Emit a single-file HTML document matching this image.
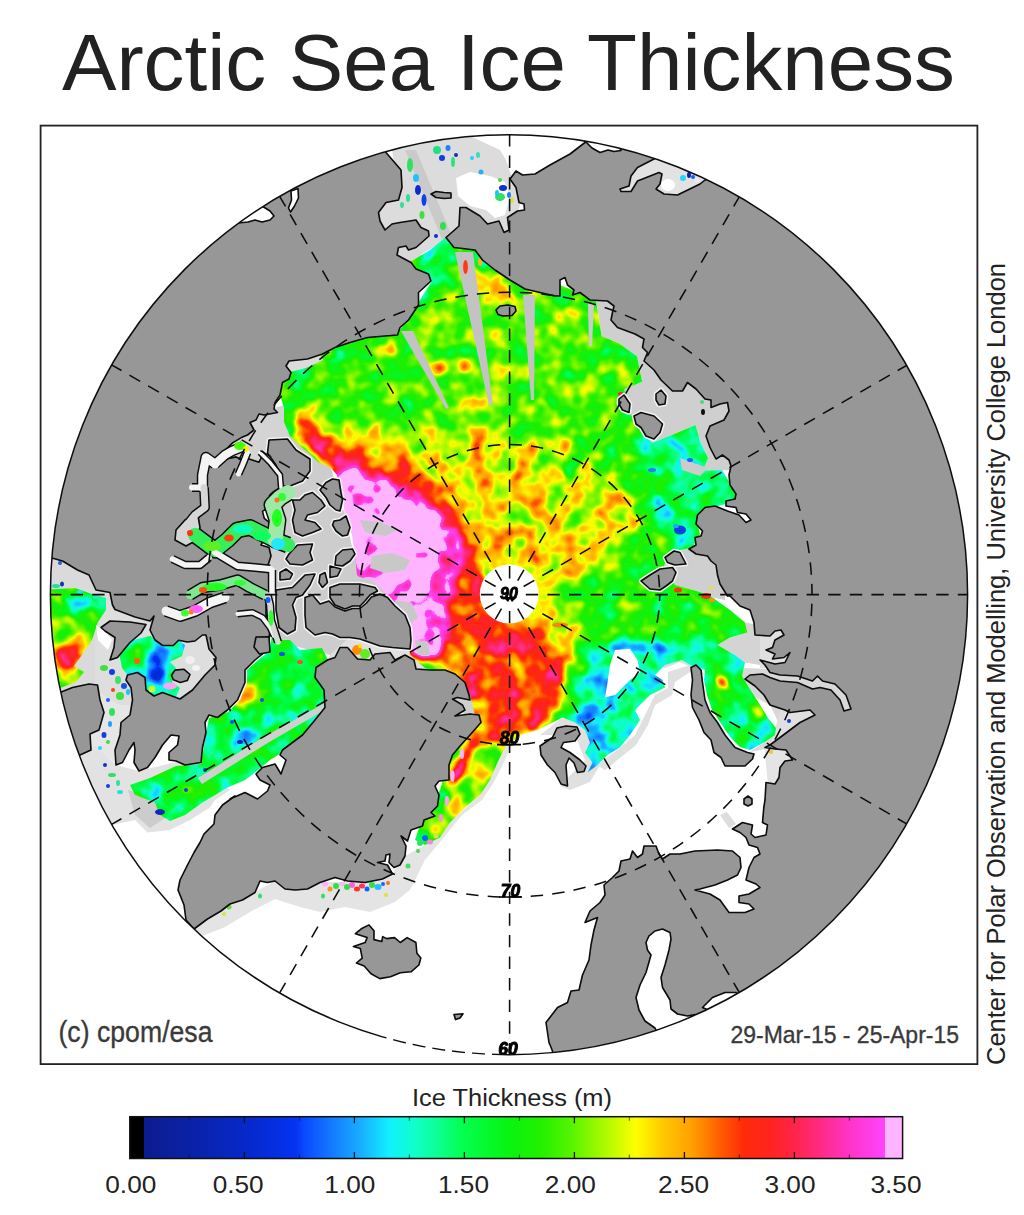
<!DOCTYPE html>
<html><head><meta charset="utf-8"><title>Arctic Sea Ice Thickness</title>
<style>
html,body{margin:0;padding:0;background:#fff;}
body{width:1024px;height:1215px;overflow:hidden;position:relative;font-family:"Liberation Sans",sans-serif;}
svg{position:absolute;left:0;top:0;}
text{font-family:"Liberation Sans",sans-serif;}
</style></head><body>
<svg width="1024" height="1215" viewBox="0 0 1024 1215">
<defs>
<filter id="soft" filterUnits="userSpaceOnUse" x="30" y="115" width="960" height="960"><feGaussianBlur stdDeviation="0.55"/></filter>
<clipPath id="cc"><ellipse cx="509.0" cy="594.65" rx="458.6" ry="460.0"/></clipPath>
<linearGradient id="cb" x1="0" x2="1" y1="0" y2="0"><stop offset="0.0000" stop-color="#000000"/><stop offset="0.0186" stop-color="#000000"/><stop offset="0.0187" stop-color="#0b1c8e"/><stop offset="0.0800" stop-color="#0a22a8"/><stop offset="0.1550" stop-color="#0629cc"/><stop offset="0.2150" stop-color="#0433f2"/><stop offset="0.2250" stop-color="#0a48ff"/><stop offset="0.2600" stop-color="#1478ff"/><stop offset="0.3000" stop-color="#18b0ff"/><stop offset="0.3360" stop-color="#12f0ff"/><stop offset="0.3700" stop-color="#10ffc8"/><stop offset="0.4000" stop-color="#0cff90"/><stop offset="0.4300" stop-color="#04ff50"/><stop offset="0.4900" stop-color="#08f410"/><stop offset="0.5300" stop-color="#20f000"/><stop offset="0.5720" stop-color="#58f400"/><stop offset="0.6200" stop-color="#b8fa00"/><stop offset="0.6550" stop-color="#ffff00"/><stop offset="0.6900" stop-color="#ffc800"/><stop offset="0.7300" stop-color="#ff9c00"/><stop offset="0.7620" stop-color="#ff6000"/><stop offset="0.7950" stop-color="#ff2a08"/><stop offset="0.8300" stop-color="#ff2420"/><stop offset="0.8600" stop-color="#ff2448"/><stop offset="0.9000" stop-color="#ff2c90"/><stop offset="0.9320" stop-color="#ff34c8"/><stop offset="0.9770" stop-color="#ff44ff"/><stop offset="0.9771" stop-color="#ffb4ff"/><stop offset="1.0000" stop-color="#ffb4ff"/></linearGradient>
</defs>
<rect x="0" y="0" width="1024" height="1215" fill="#ffffff"/>
<text x="508.4" y="89.6" font-size="80" fill="#222222" text-anchor="middle" textLength="893" lengthAdjust="spacingAndGlyphs">Arctic Sea Ice Thickness</text>
<g filter="url(#soft)">
<g clip-path="url(#cc)">
<ellipse cx="509.0" cy="594.65" rx="458.6" ry="460.0" fill="#ffffff"/>
<!--ICE-->
<defs>
<filter id="cmap" filterUnits="userSpaceOnUse" x="30" y="120" width="960" height="950" color-interpolation-filters="sRGB">
<feGaussianBlur in="SourceGraphic" stdDeviation="4.5" result="t"/>
<feTurbulence type="fractalNoise" baseFrequency="0.055" numOctaves="2" seed="7" result="n"/>
<feColorMatrix in="n" type="matrix" values="1 0 0 0 0  1 0 0 0 0  1 0 0 0 0  0 0 0 0 1" result="ng"/>
<feComposite in="t" in2="ng" operator="arithmetic" k1="0" k2="1" k3="0.34" k4="-0.17" result="tn"/>
<feComponentTransfer in="tn">
<feFuncR type="table" tableValues="0.000 0.000 0.043 0.042 0.041 0.040 0.038 0.035 0.032 0.029 0.026 0.023 0.021 0.020 0.018 0.016 0.043 0.059 0.075 0.083 0.089 0.094 0.085 0.075 0.069 0.066 0.062 0.055 0.047 0.032 0.017 0.019 0.023 0.027 0.030 0.055 0.089 0.122 0.193 0.267 0.342 0.453 0.565 0.677 0.790 0.903 1.000 1.000 1.000 1.000 1.000 1.000 1.000 1.000 1.000 1.000 1.000 1.000 1.000 1.000 1.000 1.000 1.000 1.000 1.000 1.000 1.000 1.000 1.000 1.000 1.000 1.000 1.000 1.000 1.000 1.000 1.000 1.000 1.000"/>
<feFuncG type="table" tableValues="0.000 0.000 0.114 0.119 0.125 0.130 0.135 0.141 0.146 0.151 0.156 0.162 0.172 0.181 0.190 0.200 0.302 0.378 0.455 0.533 0.612 0.690 0.790 0.889 0.953 0.978 1.000 1.000 1.000 1.000 1.000 0.991 0.980 0.970 0.960 0.953 0.947 0.942 0.946 0.951 0.957 0.964 0.971 0.978 0.985 0.993 0.987 0.899 0.811 0.741 0.680 0.618 0.517 0.412 0.316 0.224 0.161 0.152 0.142 0.141 0.141 0.150 0.161 0.173 0.187 0.201 0.219 0.239 0.259 0.706 0.706 0.706 0.706 0.706 0.706 0.706 0.706 0.706 0.706"/>
<feFuncB type="table" tableValues="0.000 0.000 0.573 0.597 0.621 0.645 0.670 0.696 0.723 0.750 0.777 0.805 0.841 0.876 0.912 0.947 1.000 1.000 1.000 1.000 1.000 1.000 1.000 1.000 0.957 0.866 0.774 0.669 0.565 0.445 0.326 0.260 0.200 0.140 0.081 0.047 0.025 0.002 0.000 0.000 0.000 0.000 0.000 0.000 0.000 0.000 0.000 0.000 0.000 0.000 0.000 0.000 0.000 0.000 0.009 0.023 0.045 0.083 0.122 0.193 0.267 0.363 0.464 0.565 0.663 0.761 0.836 0.905 0.973 1.000 1.000 1.000 1.000 1.000 1.000 1.000 1.000 1.000 1.000"/>
</feComponentTransfer>
</filter>
<clipPath id="dclip">
<polygon points="446.0,237.0 470.0,245.0 520.0,270.0 560.0,285.0 596.0,300.0 601.6,336.0 619.3,343.6 637.0,356.3 642.2,381.7 624.4,389.3 629.5,412.2 642.2,432.5 652.4,442.7 677.7,432.5 695.5,424.9 700.6,442.7 708.2,457.9 703.0,470.6 722.0,470.0 740.0,500.0 715.0,507.0 700.0,512.0 697.0,522.0 700.0,534.0 692.0,548.0 680.0,550.0 668.0,556.0 664.0,566.0 675.0,585.0 700.0,592.0 712.5,597.5 730.0,610.0 745.0,622.5 747.5,632.5 730.0,637.5 717.5,645.0 735.0,655.0 745.0,662.5 742.0,676.0 748.0,686.0 755.0,697.0 762.0,708.0 768.0,718.0 776.0,728.0 775.0,735.0 765.0,742.0 750.0,750.0 740.0,747.0 730.0,737.0 720.0,722.0 712.0,710.0 707.0,695.0 704.0,680.0 705.0,670.0 700.0,668.0 690.0,665.0 682.0,660.0 665.0,665.0 655.0,675.0 662.5,680.0 665.0,687.5 650.0,695.0 635.0,710.0 640.0,720.0 630.0,735.0 620.0,747.5 607.5,755.0 597.5,765.0 587.5,772.5 592.5,762.5 585.0,752.5 590.0,742.5 585.0,730.0 575.0,722.5 562.5,717.5 552.5,722.5 537.5,730.0 520.0,735.0 505.0,747.5 497.5,762.5 490.0,780.0 480.0,795.0 465.0,807.5 450.0,822.5 440.0,837.5 425.0,845.0 415.0,840.0 420.0,825.0 440.0,790.0 455.0,740.0 475.0,715.0 470.0,695.0 440.0,675.0 425.0,668.0 410.0,655.0 408.0,640.0 400.0,612.0 385.0,597.0 368.0,586.0 357.0,575.0 355.0,555.0 352.0,535.0 345.0,515.0 342.0,495.0 337.0,475.0 330.0,467.0 318.0,462.0 312.0,456.0 300.0,446.0 290.0,436.0 284.0,422.0 284.0,408.0 280.0,395.0 285.0,375.0 300.0,355.0 340.0,340.0 400.0,330.0 420.0,300.0 432.0,281.0 429.0,275.0 415.0,270.0 410.0,262.0 430.0,250.0"/>
<polygon points="118.8,652.5 132.9,640.2 150.4,635.8 162.7,645.5 173.3,645.5 178.6,640.2 185.0,645.0 182.0,656.0 170.0,662.0 176.0,668.0 172.0,682.0 180.0,688.0 176.0,697.0 162.5,692.5 154.0,696.0 146.0,690.0 145.0,677.5 137.5,672.5 127.5,675.0 122.0,668.0"/>
<polygon points="290.0,640.0 300.0,650.0 322.0,648.0 328.0,660.0 318.0,668.0 316.0,680.0 324.0,690.0 325.0,707.0 315.0,720.0 302.0,735.0 286.0,750.0 270.0,760.0 255.0,772.5 245.0,780.0 227.5,787.5 215.0,795.0 202.5,802.5 185.0,815.0 170.0,821.0 160.0,815.0 155.0,802.5 135.0,795.0 130.0,785.0 150.0,778.0 176.0,766.0 201.0,764.0 205.0,740.0 209.0,718.0 228.0,712.0 240.0,700.0 247.0,683.0 247.0,670.0 257.0,661.0 269.0,651.0 272.0,636.0 280.0,640.0"/>
<polygon points="40.0,590.0 75.0,588.0 92.0,594.0 106.0,598.0 106.0,610.0 98.0,622.0 92.0,640.0 82.0,655.0 74.0,666.0 84.0,672.0 76.0,682.0 60.0,688.0 40.0,690.0"/>
</clipPath></defs>
<g>
<polygon points="80.0,755.0 95.0,745.0 116.0,765.0 139.0,771.0 176.0,762.0 201.0,764.0 230.0,790.0 215.0,800.0 210.0,807.5 190.0,820.0 170.0,830.0 147.5,832.5 135.0,820.0 112.5,825.0 95.0,800.0" fill="#e2e2e2"/>
<polygon points="128.0,790.0 160.0,800.0 165.0,818.0 150.0,828.0 135.0,815.0" fill="#cccccc"/>
<polygon points="194.0,929.0 200.0,937.0 225.0,927.0 250.0,912.0 275.0,899.0 300.0,907.0 320.0,912.0 345.0,907.0 370.0,912.0 395.0,902.0 410.0,890.0 425.0,860.0 440.0,842.0 462.0,815.0 482.0,800.0 494.0,782.0 505.0,760.0 512.0,745.0 500.0,745.0 480.0,795.0 450.0,822.0 425.0,845.0 405.0,856.0 392.0,874.0 365.0,882.0 320.0,882.0 275.0,881.0 255.0,892.0 230.0,904.0" fill="#e4e4e4"/>
<polygon points="540.0,735.0 562.0,718.0 580.0,722.0 592.0,742.0 600.0,765.0 590.0,782.0 570.0,790.0 560.0,786.0 585.0,760.0 575.0,735.0" fill="#e0e0e0"/>
<polygon points="597.0,765.0 620.0,748.0 635.0,735.0 645.0,715.0 655.0,695.0 668.0,688.0 668.0,672.0 690.0,665.0 700.0,668.0 705.0,675.0 690.0,672.0 675.0,682.0 672.0,695.0 655.0,705.0 648.0,725.0 636.0,745.0 620.0,758.0 605.0,770.0" fill="#e0e0e0"/>
<polygon points="655.0,665.0 665.0,655.0 690.0,655.0 693.0,668.0 680.0,662.0 665.0,668.0" fill="#dcdcdc"/>
<polygon points="764.0,745.0 790.0,745.0 795.0,762.0 785.0,785.0 768.0,785.0" fill="#e4e4e4"/>
<polygon points="720.0,815.0 727.0,812.0 736.0,824.0 729.0,828.0" fill="#dddddd"/>
<polygon points="392.0,150.0 430.0,140.0 470.0,136.0 500.0,150.0 512.0,170.0 520.0,205.0 512.0,232.0 470.0,245.0 446.0,240.0 420.0,255.0 395.0,255.0 378.0,225.0 380.0,200.0 398.0,185.0" fill="#dcdcdc"/>
<polygon points="596.0,298.0 620.0,300.0 660.0,330.0 700.0,380.0 740.0,400.0 740.0,470.0 703.0,470.6 708.2,457.9 700.6,442.7 695.5,424.9 677.7,432.5 652.4,442.7 642.2,432.5 629.5,412.2 624.4,389.3 642.2,381.7 637.0,356.3 619.3,343.6 601.6,336.0" fill="#cfcfcf"/>
<polygon points="664.0,566.0 668.0,556.0 680.0,550.0 692.0,548.0 700.0,534.0 725.0,560.0 725.0,600.0 712.5,597.5 700.0,592.0 675.0,585.0" fill="#cfcfcf"/>
<polygon points="717.5,645.0 730.0,637.5 747.5,632.5 745.0,622.5 760.0,625.0 775.0,650.0 760.0,665.0 745.0,662.5 735.0,655.0" fill="#d4d4d4"/>
<polygon points="745.0,679.0 750.0,672.0 790.0,690.0 800.0,712.0 815.0,712.0 790.0,735.0 770.0,748.0 750.0,752.0 765.0,742.0 775.0,735.0 780.0,727.0 775.0,715.0 770.0,705.0 764.0,695.0 755.0,686.0" fill="#d8d8d8"/>
<polygon points="284.0,405.0 300.0,440.0 330.0,465.0 345.0,515.0 355.0,560.0 368.0,586.0 395.0,606.0 410.0,640.0 410.0,655.0 350.0,660.0 290.0,645.0 272.0,640.0 265.0,560.0 270.0,530.0 290.0,490.0 290.0,440.0 262.0,440.0 262.0,420.0" fill="#cdcdcd"/>
<polygon points="284.0,405.0 262.0,412.0 250.0,424.0 246.0,436.0 232.0,444.0 222.0,456.0 228.0,459.0 236.0,457.0 245.0,461.0 249.0,459.0 259.0,462.0 263.0,455.0 268.0,452.0 269.0,440.0 288.0,439.0" fill="#d4d4d4"/>
<polygon points="320.0,668.0 330.0,655.0 350.0,637.0 380.0,644.0 415.0,652.0 432.0,668.0 416.0,672.0 395.0,662.0 370.0,662.0 345.0,652.0" fill="#e0e0e0"/>
<polygon points="425.0,668.0 440.0,675.0 470.0,695.0 478.0,712.0 465.0,716.0 455.0,700.0 440.0,690.0" fill="#d0d0d0"/>
<polygon points="40.0,555.0 62.5,561.0 77.5,570.0 89.0,575.0 96.0,590.0 110.0,592.5 112.5,605.0 110.0,612.0 101.0,627.5 105.0,631.0 115.0,637.5 114.0,647.5 110.0,660.0 117.5,657.5 126.0,680.0 100.0,686.0 97.5,685.0 89.0,684.0 72.5,687.5 60.0,692.5 40.0,692.0" fill="#dadada"/>
<polygon points="97.5,685.0 126.0,680.0 131.0,687.5 132.5,700.0 130.0,715.0 121.0,722.5 120.0,735.0 115.0,750.0 116.0,765.0 95.0,745.0 80.0,755.0 91.0,750.0 90.0,734.0 99.0,730.0 104.0,712.5 100.0,700.0" fill="#e6e6e6"/>
<polygon points="742.0,668.0 800.0,670.0 856.0,690.0 856.0,715.0 790.0,716.0 742.0,690.0" fill="#d8d8d8"/>
<polygon points="760.0,628.0 795.0,628.0 795.0,668.0 760.0,668.0" fill="#e0e0e0"/>
<polygon points="782.0,706.0 820.0,706.0 820.0,730.0 790.0,745.0 770.0,745.0" fill="#e0e0e0"/>
<polygon points="396.0,246.0 410.0,245.0 422.0,252.0 418.0,263.0 405.0,264.0 396.0,257.0" fill="#d8d8d8"/>
<polygon points="95.0,600.0 220.0,600.0 222.0,705.0 120.0,705.0 95.0,690.0" fill="#dedede"/>
</g>
<g clip-path="url(#dclip)"><g filter="url(#cmap)">
<rect x="0" y="100" width="1024" height="1000" fill="#747474"/>
<polygon points="690.0,640.0 760.0,640.0 790.0,720.0 760.0,760.0 720.0,740.0 700.0,690.0" fill="#656565"/>
<polygon points="716.0,678.0 728.0,681.0 729.0,689.0 717.0,687.0" fill="#dedede"/>
<polygon points="754.0,706.0 762.0,708.0 763.0,718.0 755.0,716.0" fill="#bebebe"/>
<polygon points="750.0,726.0 768.0,726.0 769.0,741.0 753.0,743.0" fill="#3b3b3b"/>
<polygon points="572.0,650.0 610.0,640.0 700.0,640.0 700.0,700.0 640.0,760.0 590.0,780.0 572.0,740.0" fill="#555555"/>
<polygon points="640.0,430.0 720.0,420.0 740.0,520.0 690.0,560.0 650.0,520.0" fill="#5f5f5f"/>
<polygon points="425.0,235.0 470.0,240.0 480.0,300.0 440.0,320.0 415.0,290.0" fill="#626262"/>
<polygon points="560.0,440.0 590.0,440.0 592.0,480.0 565.0,480.0" fill="#626262"/>
<polygon points="405.0,335.0 450.0,262.0 520.0,285.0 600.0,310.0 630.0,360.0 620.0,420.0 560.0,445.0 470.0,440.0 420.0,400.0" fill="#808080"/>
<polygon points="470.0,262.0 505.0,280.0 520.0,300.0 500.0,310.0 478.0,296.0 466.0,276.0" fill="#9a9a9a"/>
<polygon points="462.0,262.0 466.0,262.0 467.0,276.0 463.0,276.0" fill="#c4c4c4"/>
<polygon points="432.0,364.0 446.0,363.0 447.0,373.0 433.0,374.0" fill="#c4c4c4"/>
<polygon points="457.0,361.0 470.0,361.0 471.0,370.0 458.0,370.0" fill="#c4c4c4"/>
<polygon points="468.0,398.0 492.0,400.0 490.0,410.0 470.0,408.0" fill="#bebebe"/>
<polygon points="318.0,374.0 332.0,372.0 334.0,382.0 320.0,384.0" fill="#cbcbcb"/>
<polygon points="338.0,370.0 352.0,368.0 354.0,377.0 340.0,379.0" fill="#c4c4c4"/>
<polygon points="360.0,350.0 395.0,345.0 398.0,356.0 364.0,362.0" fill="#aaaaaa"/>
<polygon points="296.0,408.0 340.0,398.0 400.0,412.0 450.0,424.0 505.0,434.0 535.0,445.0 556.0,470.0 585.0,490.0 615.0,498.0 640.0,519.0 615.0,546.0 582.0,562.0 558.0,578.0 552.0,600.0 572.0,626.0 578.0,660.0 565.0,684.0 552.0,722.0 520.0,742.0 495.0,755.0 480.0,760.0 455.0,740.0 455.0,700.0 440.0,660.0 420.0,600.0 400.0,520.0 350.0,480.0 296.0,440.0" fill="#949494"/>
<polygon points="395.2,511.7 425.0,523.9 402.1,491.1 435.7,512.9 396.0,449.6 406.4,442.1 417.3,435.3 432.1,436.4 467.3,490.8 459.2,440.5 477.9,468.5 477.3,413.4 497.6,483.2 504.8,464.7 513.2,482.7 524.5,450.4 537.4,435.1 540.7,468.5 559.4,440.5 575.2,431.4 558.4,493.9 597.3,442.2 582.0,486.8 578.3,506.3 632.4,457.9 602.8,504.3 633.4,490.5 626.6,509.4 619.5,525.7 652.3,518.5 628.1,541.7 581.7,568.3 600.6,568.4 647.2,565.3 542.3,586.4 539.9,579.7 536.1,573.7 531.2,568.6 525.3,564.6 518.7,561.9 511.7,560.7 504.6,560.9 497.7,562.7 491.3,565.8 485.7,570.1" fill="#989898"/>
<polygon points="300.0,370.0 360.0,350.0 430.0,370.0 450.0,420.0 380.0,430.0 320.0,420.0" fill="#7b7b7b"/>
<polygon points="296.0,408.0 325.0,436.0 361.0,449.0 394.0,463.0 423.0,475.0 452.0,487.0 472.0,518.0 482.0,560.0 486.0,600.0 530.0,624.0 556.0,642.5 565.0,675.0 560.0,708.0 540.0,726.0 513.0,739.0 495.0,747.0 478.0,732.0 463.0,690.0 453.0,660.0 438.0,650.0 425.0,610.0 430.0,590.0 445.0,565.0 448.0,536.0 435.0,515.0 407.0,505.0 382.0,495.0 357.0,480.0 337.0,470.0 318.0,455.0 296.0,436.0" fill="#bababa"/>
<polygon points="320.0,454.0 361.0,468.0 394.0,480.0 423.0,492.0 450.0,501.0 464.0,530.0 462.0,560.0 452.0,593.0 445.0,618.0 453.0,642.0 460.0,668.0 445.0,668.0 435.0,640.0 425.0,610.0 430.0,590.0 441.0,565.0 448.0,538.0 435.0,513.0 407.0,505.0 382.0,495.0 357.0,480.0 337.0,470.0" fill="#d9d9d9"/>
<polygon points="335.0,466.0 357.0,476.0 382.0,491.0 407.0,501.0 435.0,509.0 449.0,536.0 440.0,565.0 428.0,589.0 424.0,610.0 436.0,634.0 441.0,661.0 415.0,661.0 405.0,645.0 400.0,618.0 385.0,597.0 355.0,585.0 350.0,560.0 345.0,540.0 338.0,515.0 330.0,491.0" fill="#ededed"/>
<polygon points="444.0,640.0 476.0,636.0 486.0,700.0 492.0,738.0 470.0,738.0 455.0,700.0" fill="#a0a0a0"/>
<polygon points="468.0,680.0 478.0,680.0 479.0,698.0 470.0,698.0" fill="#ebebeb"/>
<polygon points="585.0,660.0 612.0,655.0 615.0,700.0 600.0,760.0 585.0,770.0 580.0,720.0" fill="#4b4b4b"/>
<polygon points="475.0,740.0 503.0,745.0 495.0,775.0 470.0,810.0 440.0,845.0 420.0,850.0 425.0,830.0 450.0,800.0 462.0,770.0" fill="#868686"/>
<polygon points="474.0,738.0 478.0,742.0 465.0,768.0 455.0,790.0 451.0,792.0 452.0,775.0 459.0,752.0" fill="#dedede"/>
<polygon points="452.0,792.0 459.0,792.0 453.0,810.0 442.0,826.0 438.0,822.0" fill="#aaaaaa"/>
<polygon points="418.0,830.0 430.0,830.0 428.0,848.0 415.0,848.0" fill="#555555"/>
<polygon points="120.0,780.0 200.0,760.0 210.0,700.0 260.0,640.0 335.0,640.0 335.0,720.0 290.0,760.0 180.0,830.0" fill="#676767"/>
<polygon points="236.0,684.0 254.0,676.0 258.0,694.0 244.0,712.0 236.0,704.0" fill="#adadad"/>
<polygon points="225.0,740.0 250.0,725.0 255.0,738.0 232.0,752.0" fill="#414141"/>
<polygon points="40.0,590.0 112.0,590.0 112.0,690.0 40.0,690.0" fill="#838383"/>
<polygon points="52.0,644.0 80.0,640.0 86.0,662.0 70.0,672.0 56.0,672.0" fill="#c1c1c1"/>
<polygon points="60.0,592.0 112.0,594.0 110.0,612.0 70.0,612.0" fill="#555555"/>
<polygon points="115.0,630.0 215.0,630.0 215.0,705.0 115.0,705.0" fill="#525252"/>
<polygon points="120.0,648.0 140.0,640.0 150.0,652.0 135.0,664.0 122.0,662.0" fill="#6f6f6f"/>
<polygon points="150.0,648.0 166.0,648.0 168.0,662.0 152.0,664.0" fill="#313131"/>
<polygon points="152.0,664.0 166.0,668.0 168.0,680.0 154.0,680.0" fill="#272727"/>
<polygon points="168.0,640.0 182.0,642.0 180.0,654.0 168.0,654.0" fill="#7c7c7c"/>
<polygon points="483.5,564.0 386.7,449.5 398.2,440.5 485.9,562.2" fill="#b1b1b1" fill-opacity="0.7"/>
<polygon points="490.2,559.5 427.9,445.3 436.4,441.0 492.1,558.5" fill="#aaaaaa" fill-opacity="0.7"/>
<polygon points="499.1,555.9 467.2,435.1 477.3,432.7 501.5,555.4" fill="#b1b1b1" fill-opacity="0.7"/>
<polygon points="505.2,549.8 495.7,445.2 502.0,444.8 507.1,549.7" fill="#aaaaaa" fill-opacity="0.7"/>
<polygon points="513.1,554.8 523.4,445.3 531.7,446.3 515.3,555.0" fill="#aaaaaa" fill-opacity="0.7"/>
<polygon points="521.9,556.6 556.6,452.3 564.5,455.1 524.0,557.4" fill="#a7a7a7" fill-opacity="0.7"/>
<polygon points="529.9,560.3 596.9,448.9 606.8,455.3 532.2,561.8" fill="#aaaaaa" fill-opacity="0.7"/>
<polygon points="537.6,566.3 622.4,481.5 630.1,489.6 539.5,568.4" fill="#a7a7a7" fill-opacity="0.7"/>
<polygon points="543.1,573.3 636.2,514.7 642.0,524.6 544.7,575.9" fill="#aaaaaa" fill-opacity="0.7"/>
<polygon points="547.1,581.6 622.8,555.5 625.2,563.5 547.9,584.2" fill="#a3a3a3" fill-opacity="0.7"/>
<polygon points="475.9,544.7 398.0,428.4 408.7,421.7 479.1,542.7" fill="#7c7c7c" fill-opacity="0.7"/>
<polygon points="483.5,529.5 439.4,417.9 449.3,414.3 487.2,528.2" fill="#7c7c7c" fill-opacity="0.7"/>
<polygon points="507.3,514.6 505.1,424.7 513.5,424.7 511.3,514.6" fill="#7c7c7c" fill-opacity="0.7"/>
<polygon points="523.3,526.0 543.2,428.0 551.9,430.0 526.8,526.8" fill="#7c7c7c" fill-opacity="0.7"/>
<polygon points="539.3,531.4 586.5,432.0 595.5,436.6 542.8,533.1" fill="#7c7c7c" fill-opacity="0.7"/>
<polygon points="546.4,547.4 633.0,437.4 642.6,445.5 549.3,549.9" fill="#797979" fill-opacity="0.7"/>
<polygon points="556.7,557.8 667.3,472.0 674.7,482.2 558.9,560.9" fill="#797979" fill-opacity="0.7"/>
<polygon points="524.1,626.3 560.0,703.4 540.4,710.5 518.4,628.4" fill="#bebebe" fill-opacity="0.7"/>
<polygon points="509.3,629.6 509.3,724.6 486.7,722.6 503.2,629.1" fill="#c1c1c1" fill-opacity="0.7"/>
<polygon points="496.8,627.3 466.3,706.6 451.1,699.6 492.3,625.2" fill="#c4c4c4" fill-opacity="0.7"/>
<polygon points="516.6,633.9 533.0,722.4 521.8,724.0 513.1,634.4" fill="#969696" fill-opacity="0.7"/>
<polygon points="499.6,633.4 480.3,711.0 472.2,708.7 496.9,632.6" fill="#9d9d9d" fill-opacity="0.7"/>
<polygon points="549.0,599.5 598.6,605.6 597.0,614.8 548.3,603.6" fill="#9d9d9d" fill-opacity="0.7"/>
<polygon points="545.6,611.5 599.9,636.9 595.0,646.1 543.6,615.2" fill="#a3a3a3" fill-opacity="0.7"/>
<polygon points="536.5,618.2 592.3,666.8 581.5,677.6 532.9,621.8" fill="#aaaaaa" fill-opacity="0.7"/>
</g></g>
<polygon points="605.0,697.5 607.5,682.5 610.0,665.0 615.0,650.0 630.0,648.8 637.5,660.0 640.0,672.5 630.0,680.0 622.5,687.5 615.0,695.0" fill="#ffffff"/>
<circle cx="509.3" cy="594.0" r="29.5" fill="#ffffff"/>
<g>
<polygon points="401.0,331.0 413.0,331.0 449.0,408.0 446.0,409.0" fill="#c3c3c3"/>
<polygon points="455.0,252.0 473.0,252.0 493.0,405.0 489.0,405.0" fill="#c3c3c3"/>
<polygon points="523.0,295.0 535.0,295.0 534.0,400.0 531.0,400.0" fill="#c3c3c3"/>
<polygon points="405.0,150.0 416.0,150.0 452.0,236.0 442.0,239.0" fill="#cacaca"/>
<polygon points="286.0,361.0 320.0,354.0 323.0,360.0 306.0,368.0 290.0,372.0 286.0,368.0" fill="#dcdcdc"/>
<polygon points="456.0,178.0 470.0,172.0 490.0,176.0 505.0,182.0 510.0,196.0 505.0,215.0 495.0,218.0 486.0,210.0 470.0,206.0 458.0,196.0" fill="#ffffff"/>
<polygon points="500.0,140.0 516.0,150.0 522.0,172.0 512.0,178.0 506.0,160.0" fill="#ffffff"/>
<polygon points="198.0,778.0 262.0,738.0 330.0,700.0 333.0,705.0 266.0,744.0 202.0,784.0" fill="#d0d0d0"/>
<polygon points="96.0,625.0 106.0,632.0 112.0,640.0 108.0,650.0 98.0,640.0" fill="#ffffff"/>
<polygon points="372.0,556.0 392.0,553.0 410.0,560.0 405.0,570.0 385.0,573.0 370.0,568.0" fill="#c8c8c8"/>
<polygon points="360.0,520.0 380.0,522.0 398.0,530.0 385.0,536.0 365.0,532.0" fill="#c8c8c8"/>
<polygon points="395.0,600.0 412.0,603.0 418.0,618.0 408.0,625.0 398.0,615.0" fill="#c8c8c8"/>
<polygon points="415.0,640.0 428.0,642.0 430.0,655.0 418.0,655.0" fill="#c8c8c8"/>
<polygon points="352.0,575.0 372.0,580.0 385.0,592.0 370.0,592.0 355.0,585.0" fill="#cccccc"/>
<polygon points="680.0,458.0 708.0,468.0 700.0,476.0 682.0,470.0" fill="#cccccc"/>
<polygon points="588.0,303.0 594.0,303.0 592.0,346.0 589.0,346.0" fill="#cccccc"/>
<ellipse cx="452.5" cy="776" rx="2.2" ry="6" fill="#ffb0ff"/>
<ellipse cx="447" cy="801" rx="2.2" ry="5" fill="#ffa0f0"/>
<ellipse cx="462" cy="754" rx="2.2" ry="5" fill="#ffb0ff"/>
<ellipse cx="441" cy="818" rx="2" ry="4" fill="#ff90e0"/>
<ellipse cx="680" cy="530" rx="6" ry="4.5" fill="#1040e0"/>
<ellipse cx="676" cy="526" rx="3" ry="2" fill="#20a0ff"/>
<ellipse cx="104" cy="668" rx="4" ry="3" fill="#40e040"/>
<ellipse cx="112" cy="672" rx="3" ry="3" fill="#1040e0"/>
<ellipse cx="118" cy="680" rx="3" ry="4" fill="#40e060"/>
<ellipse cx="124" cy="686" rx="3" ry="3" fill="#1050f0"/>
<ellipse cx="113" cy="690" rx="2" ry="2" fill="#ff4020"/>
<ellipse cx="120" cy="696" rx="4" ry="4" fill="#40e040"/>
<ellipse cx="128" cy="692" rx="2" ry="3" fill="#20c0ff"/>
<ellipse cx="196" cy="668" rx="4" ry="3" fill="#f4f4f4"/>
<ellipse cx="190" cy="660" rx="5" ry="4" fill="#f0f0f0"/>
<ellipse cx="465.5" cy="267" rx="2.4" ry="7" fill="#ff3818"/>
<ellipse cx="480" cy="262" rx="2" ry="4" fill="#ffb020"/>
<ellipse cx="410" cy="165" rx="3" ry="7" fill="#30e060"/>
<ellipse cx="416" cy="178" rx="3" ry="4" fill="#20c0ff"/>
<ellipse cx="418" cy="190" rx="3" ry="5" fill="#0a2ad0"/>
<ellipse cx="424" cy="200" rx="2.5" ry="6" fill="#1040f0"/>
<ellipse cx="408" cy="198" rx="2" ry="4" fill="#30e090"/>
<ellipse cx="402" cy="205" rx="2" ry="3" fill="#30e090"/>
<ellipse cx="437" cy="150" rx="4" ry="4" fill="#20e080"/>
<ellipse cx="442" cy="158" rx="3" ry="3" fill="#0a40e0"/>
<ellipse cx="448" cy="148" rx="2.5" ry="3" fill="#2080ff"/>
<ellipse cx="453" cy="162" rx="2" ry="5" fill="#30e080"/>
<ellipse cx="456" cy="155" rx="2" ry="2" fill="#1030c0"/>
<ellipse cx="472" cy="158" rx="2" ry="2" fill="#20d0ff"/>
<ellipse cx="478" cy="155" rx="2" ry="3" fill="#30e0c0"/>
<ellipse cx="481" cy="172" rx="2.5" ry="2.5" fill="#20b0ff"/>
<ellipse cx="500" cy="180" rx="2" ry="2" fill="#40e040"/>
<ellipse cx="503" cy="188" rx="4" ry="3" fill="#0a30d0"/>
<ellipse cx="500" cy="197" rx="5" ry="4" fill="#30e060"/>
<ellipse cx="497" cy="193" rx="2" ry="3" fill="#20c0ff"/>
<ellipse cx="509" cy="195" rx="2" ry="3" fill="#2080ff"/>
<ellipse cx="512" cy="200" rx="2" ry="3" fill="#e0e040"/>
<ellipse cx="422" cy="215" rx="2.5" ry="4" fill="#40e040"/>
<ellipse cx="436" cy="236" rx="2" ry="2" fill="#1030d0"/>
<ellipse cx="443" cy="226" rx="3" ry="4" fill="#30e050"/>
<ellipse cx="60" cy="563" rx="2" ry="2" fill="#2060e0"/>
<ellipse cx="62" cy="584" rx="2" ry="2.5" fill="#1030b0"/>
<ellipse cx="56" cy="586" rx="4" ry="2" fill="#20e0a0"/>
<ellipse cx="80" cy="592" rx="3" ry="2" fill="#30e0e0"/>
<ellipse cx="96" cy="597" rx="3" ry="2" fill="#30e0d0"/>
<ellipse cx="108" cy="700" rx="2" ry="2" fill="#2060ff"/>
<ellipse cx="112" cy="712" rx="3" ry="4" fill="#30e060"/>
<ellipse cx="110" cy="724" rx="2" ry="3" fill="#20a0ff"/>
<ellipse cx="104" cy="735" rx="2.5" ry="3" fill="#1040e0"/>
<ellipse cx="100" cy="748" rx="2" ry="2" fill="#30d0ff"/>
<ellipse cx="108" cy="742" rx="2" ry="2" fill="#40e040"/>
<ellipse cx="105" cy="765" rx="2" ry="2" fill="#1030d0"/>
<ellipse cx="112" cy="775" rx="4" ry="2" fill="#30e060"/>
<ellipse cx="118" cy="783" rx="2" ry="3" fill="#30e0a0"/>
<ellipse cx="108" cy="786" rx="2" ry="2" fill="#1040e0"/>
<ellipse cx="120" cy="792" rx="3" ry="2" fill="#20e0e0"/>
<ellipse cx="160" cy="812" rx="5" ry="3" fill="#0a28c0"/>
<ellipse cx="186" cy="790" rx="2" ry="2" fill="#1040e0"/>
<ellipse cx="205" cy="770" rx="2" ry="2" fill="#1040e0"/>
<ellipse cx="240" cy="742" rx="3" ry="2" fill="#0a28c0"/>
<ellipse cx="262" cy="700" rx="2" ry="2" fill="#1050f0"/>
<ellipse cx="232" cy="722" rx="2" ry="2" fill="#1050f0"/>
<ellipse cx="300" cy="662" rx="3" ry="2" fill="#ff5010"/>
<ellipse cx="282" cy="654" rx="3" ry="2" fill="#1050f0"/>
<ellipse cx="357" cy="650" rx="5" ry="5" fill="#ff9010"/>
<ellipse cx="365" cy="654" rx="5" ry="5" fill="#60f020"/>
<ellipse cx="360" cy="646" rx="2" ry="2" fill="#ffe000"/>
<ellipse cx="325" cy="884" rx="3" ry="2.5" fill="#ffb0ff"/>
<ellipse cx="330" cy="889" rx="2.5" ry="2.5" fill="#ff9020"/>
<ellipse cx="336" cy="886" rx="3" ry="3" fill="#30e040"/>
<ellipse cx="342" cy="884" rx="3" ry="2" fill="#ffb0ff"/>
<ellipse cx="347" cy="887" rx="3" ry="3" fill="#30e040"/>
<ellipse cx="352" cy="885" rx="3" ry="3" fill="#ff60e0"/>
<ellipse cx="357" cy="889" rx="3" ry="2.5" fill="#ff3020"/>
<ellipse cx="362" cy="886" rx="3" ry="2.5" fill="#ff3060"/>
<ellipse cx="367" cy="889" rx="2.5" ry="2.5" fill="#1060ff"/>
<ellipse cx="372" cy="885" rx="3" ry="3" fill="#30e040"/>
<ellipse cx="378" cy="887" rx="3.5" ry="3" fill="#20c0ff"/>
<ellipse cx="383" cy="884" rx="2" ry="2" fill="#2060ff"/>
<ellipse cx="388" cy="883" rx="2" ry="2" fill="#ff7020"/>
<ellipse cx="323" cy="896" rx="2" ry="2.5" fill="#30e060"/>
<ellipse cx="386" cy="895" rx="2" ry="2" fill="#e0e040"/>
<ellipse cx="260" cy="896" rx="2" ry="2.5" fill="#30e060"/>
<ellipse cx="229" cy="907" rx="2.5" ry="2.5" fill="#60e040"/>
<ellipse cx="224" cy="914" rx="2" ry="2" fill="#e0e040"/>
<ellipse cx="425" cy="838" rx="3" ry="3" fill="#1060ff"/>
<ellipse cx="420" cy="843" rx="3" ry="3" fill="#30e060"/>
<ellipse cx="430" cy="842" rx="3" ry="2.5" fill="#ff80e0"/>
<ellipse cx="436" cy="836" rx="2.5" ry="2.5" fill="#e0e040"/>
<ellipse cx="418" cy="851" rx="2" ry="2" fill="#40e040"/>
<ellipse cx="408" cy="866" rx="2.5" ry="2.5" fill="#40e060"/>
<ellipse cx="771" cy="752" rx="2" ry="2" fill="#ffc020"/>
<ellipse cx="789" cy="721" rx="2" ry="2" fill="#1040e0"/>
<ellipse cx="621" cy="394" rx="3" ry="2" fill="#ff2040"/>
<ellipse cx="624" cy="398" rx="2" ry="2" fill="#ff80ff"/>
<ellipse cx="703" cy="412" rx="2" ry="3" fill="#101010"/>
<ellipse cx="702" cy="402" rx="2" ry="2" fill="#40e080"/>
<ellipse cx="690" cy="460" rx="3" ry="2" fill="#2060ff"/>
<ellipse cx="652" cy="470" rx="4" ry="2" fill="#2080ff"/>
<ellipse cx="678" cy="590" rx="4" ry="2.5" fill="#ff3010"/>
<ellipse cx="706" cy="596" rx="5" ry="3" fill="#ff3010"/>
<ellipse cx="712" cy="600" rx="3" ry="2" fill="#ff9010"/>
<ellipse cx="711" cy="588" rx="2" ry="2" fill="#e0e040"/>
<ellipse cx="560" cy="625" rx="8" ry="2.5" fill="#ff8010"/>
</g>
<!--LAND-->
<g fill="none" stroke="#f2f2f2" stroke-width="4.6" stroke-linejoin="round">
<polygon points="619.0,399.0 624.0,395.0 630.0,404.0 629.0,412.5 622.5,410.0 619.0,404.0"/>
<polygon points="656.0,394.0 661.0,390.0 666.0,396.0 665.0,404.0 659.0,405.0 656.0,400.0"/>
<polygon points="634.0,416.0 641.0,412.5 654.0,416.0 662.5,424.0 660.0,432.5 654.0,439.0 646.0,436.0 641.0,427.5 636.0,424.0"/>
<polygon points="665.0,557.5 674.0,551.0 680.0,552.5 686.0,564.0 675.0,565.0 667.5,562.5"/>
<polygon points="641.0,581.0 650.0,575.0 660.0,569.0 672.5,567.5 676.0,572.5 672.5,581.0 666.0,586.0 660.0,590.0 650.0,589.0"/>
<polygon points="269.0,440.0 287.5,439.0 296.0,450.0 310.0,459.0 310.0,471.0 302.5,481.0 290.0,486.0 282.5,486.0 281.0,475.0 276.0,465.0 267.5,453.0"/>
<polygon points="292.5,500.0 300.0,500.0 305.0,495.0 312.5,492.5 321.0,500.0 325.0,506.0 317.5,512.5 307.5,515.0 305.0,520.0 315.0,522.5 321.0,529.0 312.5,532.5 302.5,536.0 295.0,532.5 292.5,520.0 295.0,510.0"/>
<polygon points="326.0,482.5 332.5,479.0 339.0,480.0 341.0,492.5 342.5,500.0 340.0,511.0 336.0,510.0 330.0,505.0 326.0,497.5 320.0,490.0"/>
<polygon points="334.0,521.0 340.0,520.0 346.0,516.0 350.0,527.5 347.5,535.0 342.5,536.0 336.0,531.0 332.5,525.0"/>
<polygon points="336.0,556.0 342.5,550.0 352.5,549.0 355.0,554.0 350.0,561.0 342.5,566.0 335.0,565.0"/>
<polygon points="330.0,566.0 341.0,569.0 337.5,576.0 330.0,577.5"/>
<polygon points="289.0,554.0 297.5,545.0 312.5,544.0 310.0,552.5 312.5,560.0 302.5,565.0 290.0,564.0 286.0,559.0"/>
<polygon points="280.0,572.5 286.0,569.0 292.5,574.0 290.0,579.0 280.0,580.0"/>
<polygon points="320.0,575.0 325.0,572.5 327.5,582.5 322.5,587.5 319.0,582.5"/>
<polygon points="276.0,590.0 292.5,587.5 305.0,575.0 315.0,574.0 310.0,585.0 302.5,595.0 296.0,597.5 292.5,605.0 296.0,617.5 295.0,630.0 287.5,634.0 279.0,627.5 276.0,610.0"/>
<polygon points="330.0,587.5 340.0,584.0 360.0,584.0 375.0,587.5 377.5,591.0 370.0,595.0 365.0,601.0 360.0,606.0 352.5,606.0 345.0,609.0 335.0,605.0 330.0,597.5"/>
<polygon points="305.0,597.5 312.5,595.0 320.0,604.0 329.0,601.0 335.0,607.0 345.0,611.0 352.5,608.5 360.0,608.5 366.5,603.0 371.5,597.0 380.0,594.0 387.5,597.5 395.0,606.0 405.0,615.0 410.0,627.5 411.0,640.0 410.0,649.0 392.5,647.5 380.0,646.0 370.0,642.5 360.0,639.0 350.0,637.5 340.0,637.5 332.5,634.0 325.0,632.5 315.0,635.0 306.0,627.5 305.0,615.0"/>
</g>
<g fill="#979797" stroke="#0a0a0a" stroke-width="1.6" stroke-linejoin="round">
<polygon points="386.0,100.0 386.0,152.5 401.0,170.0 402.0,187.5 398.5,200.0 386.0,202.5 378.5,212.5 380.0,221.0 385.0,230.0 392.0,224.0 400.0,222.5 416.0,220.0 421.0,227.5 428.5,231.0 429.0,236.0 416.0,247.5 408.5,250.0 406.0,246.0 398.5,247.5 397.0,255.0 411.0,262.5 416.0,269.0 428.5,274.0 431.0,281.0 418.5,292.5 418.5,305.0 408.5,320.0 400.0,327.5 397.5,335.0 385.0,336.0 367.5,337.5 350.0,342.5 335.0,347.5 322.5,354.0 307.5,359.0 289.0,361.0 286.0,366.0 291.0,372.5 289.0,379.0 282.5,382.5 280.0,395.0 275.0,402.5 274.0,409.0 277.5,412.5 264.0,415.0 259.0,414.0 256.0,420.0 250.0,422.5 254.0,430.0 247.5,435.0 241.4,437.6 232.6,442.9 225.6,449.9 222.0,456.0 227.3,458.7 236.1,456.9 244.9,461.0 248.4,458.7 259.0,462.2 262.5,455.2 273.0,465.7 280.1,472.7 281.0,486.8 273.0,492.1 269.5,495.6 271.3,502.6 267.8,507.9 262.5,511.4 264.3,518.4 273.0,525.5 267.8,532.5 261.0,545.0 269.0,547.5 271.0,556.0 268.0,565.0 269.5,571.2 271.3,578.2 269.5,588.7 266.0,600.0 266.0,615.0 270.0,630.0 267.5,650.0 255.0,660.0 245.0,670.0 245.0,682.5 237.5,700.0 227.5,710.0 217.5,717.5 209.0,715.0 205.0,722.5 206.0,732.5 202.5,747.5 201.0,762.5 185.0,765.0 176.0,761.0 169.0,760.0 169.0,752.5 177.5,745.0 179.0,736.0 171.0,735.0 162.5,745.0 155.0,757.5 147.5,767.5 139.0,771.0 134.0,762.5 135.0,750.0 134.0,742.5 129.0,750.0 122.5,762.5 116.0,765.0 115.0,750.0 120.0,735.0 121.0,722.5 130.0,715.0 132.5,700.0 131.0,687.5 126.0,680.0 127.5,675.0 137.5,672.5 145.0,677.5 146.0,690.0 154.0,696.0 162.5,692.5 180.0,699.0 192.5,690.0 205.0,675.0 215.0,665.0 216.0,657.5 209.0,649.0 206.0,635.0 202.5,635.0 195.0,641.0 187.3,642.0 178.6,640.2 173.3,645.5 162.7,645.5 155.0,640.0 150.0,630.0 154.0,616.0 150.0,621.0 135.0,617.0 115.0,609.5 112.5,605.0 110.0,592.5 96.0,590.0 89.0,575.0 77.5,570.0 62.5,561.0 50.0,557.5 0.0,557.0 0.0,100.0"/>
<polygon points="60.0,692.5 72.5,687.5 89.0,684.0 97.5,685.0 100.0,700.0 104.0,712.5 99.0,730.0 90.0,734.0 91.0,750.0 80.0,755.0 40.0,760.0 30.0,690.0"/>
<polygon points="230.0,799.0 245.0,792.5 257.5,799.0 267.5,791.0 270.0,785.0 260.0,780.0 256.0,774.0 262.5,767.5 275.0,764.0 281.0,774.0 286.0,760.0 280.0,755.0 282.5,750.0 302.5,735.0 315.0,720.0 325.0,707.5 324.0,690.0 315.0,677.5 316.0,667.5 327.5,660.0 335.0,657.5 340.0,647.5 347.5,647.5 357.5,659.0 370.0,660.0 375.0,654.0 390.0,652.5 395.0,660.0 405.0,655.0 414.0,660.0 416.0,669.0 430.0,670.0 445.0,670.0 455.0,674.0 465.0,682.5 469.0,695.0 470.0,700.0 457.5,697.5 452.5,699.0 462.5,705.0 465.0,710.0 455.0,716.0 470.0,714.0 479.0,715.0 481.0,722.5 470.0,735.0 460.0,746.0 452.5,755.0 449.0,765.0 449.0,780.0 439.0,781.0 435.0,786.0 439.0,795.0 437.5,806.0 431.0,812.5 435.0,816.0 424.0,820.0 422.5,826.0 411.0,830.0 407.5,841.0 401.0,836.0 406.0,846.0 405.0,856.0 400.0,865.0 394.0,867.5 389.0,862.5 390.0,854.0 386.0,855.0 385.0,861.0 377.5,862.5 387.5,865.0 392.5,874.0 382.5,879.0 365.0,882.5 347.5,881.0 335.0,877.5 320.0,882.5 307.5,889.0 295.0,890.0 285.0,889.0 275.0,881.0 267.5,882.5 260.0,881.0 255.0,892.5 242.5,900.0 230.0,904.0 221.0,911.0 207.5,919.0 194.0,929.0 186.0,920.0 184.0,905.0 178.0,890.0 180.0,880.0 187.5,865.0 194.0,852.5 200.0,842.5 204.0,834.0 214.0,824.0 215.0,815.0 222.5,805.0 235.0,796.0"/>
<polygon points="355.4,933.7 361.3,928.8 369.0,924.9 374.0,930.8 374.0,939.6 381.8,941.5 382.7,936.6 386.6,938.6 394.5,937.6 400.3,942.5 407.1,937.6 415.9,942.5 416.9,953.2 420.8,958.1 418.9,965.0 411.0,971.8 400.3,972.8 390.5,976.7 379.8,978.6 371.0,973.8 364.2,965.9 356.4,963.0 362.2,958.1 360.3,948.4 353.4,946.4 365.2,942.5 367.1,937.6"/>
<polygon points="454.0,1014.5 463.0,1013.8 460.0,1018.0 455.5,1019.6"/>
<polygon points="540.0,746.0 552.5,737.5 557.0,728.0 566.0,726.0 577.0,727.0 580.0,734.0 575.0,741.0 563.5,742.5 561.0,747.5 570.0,752.5 580.0,760.0 586.0,766.0 584.0,771.5 577.5,772.5 574.0,763.0 569.0,758.0 566.0,765.0 567.5,786.0 561.0,784.0 555.0,772.5 547.5,765.0 541.0,755.0"/>
<polygon points="585.0,142.5 570.0,154.0 550.0,165.0 535.0,174.0 522.5,175.0 516.0,171.0 510.0,179.0 516.0,187.5 519.0,202.5 524.0,204.0 524.5,210.0 517.5,211.0 507.5,217.5 509.0,230.0 504.0,232.5 499.0,221.0 487.5,224.0 480.0,216.0 466.0,207.5 460.0,207.5 459.0,226.0 446.0,237.5 454.0,247.5 475.0,250.0 482.5,260.0 495.0,270.0 510.0,280.0 525.0,289.0 540.0,292.5 555.0,296.0 560.0,296.0 560.0,280.0 565.0,277.5 567.5,285.0 574.0,290.0 572.5,295.0 580.0,292.5 590.0,300.0 607.5,301.0 614.0,306.0 612.5,312.5 611.0,320.0 617.5,327.5 635.0,334.0 644.0,339.0 642.5,347.5 647.5,352.5 644.0,361.0 654.0,370.0 661.0,380.0 672.5,391.0 682.5,391.0 687.5,382.5 696.0,389.0 705.0,399.0 711.0,400.0 711.0,407.5 720.0,404.0 727.5,402.5 729.0,411.0 724.0,420.0 710.0,426.0 706.0,436.0 710.0,447.5 716.0,459.0 722.5,455.0 729.0,460.0 731.0,466.0 729.0,475.0 730.0,485.0 736.0,494.0 735.0,499.0 726.0,501.0 726.0,506.0 736.0,507.5 737.5,512.5 746.0,514.0 751.0,520.0 746.0,522.5 739.0,515.0 727.5,511.0 715.0,506.0 705.0,507.5 697.5,515.0 696.0,524.0 702.5,531.0 701.0,536.0 695.0,537.5 696.0,545.0 689.0,549.0 696.0,554.0 707.5,556.0 711.0,561.0 716.0,565.0 717.5,575.0 720.0,584.0 727.5,596.0 730.0,596.0 740.0,606.0 750.0,610.0 754.0,622.5 755.0,635.0 770.0,636.0 775.0,631.0 781.0,630.0 784.0,635.0 775.0,640.0 772.5,647.5 766.0,650.0 775.0,654.0 772.5,659.0 784.0,657.5 790.0,652.5 785.0,662.5 775.0,664.0 760.0,660.0 765.0,665.0 770.0,672.5 780.0,675.0 797.5,676.0 812.5,681.0 817.5,676.0 822.5,681.0 835.0,684.0 846.0,695.0 851.0,709.0 844.0,711.0 840.0,700.0 831.0,690.0 820.0,687.5 812.5,689.0 797.5,682.5 780.0,681.0 770.0,677.5 762.5,674.0 750.0,675.0 745.0,679.0 755.0,686.0 764.0,695.0 770.0,705.0 785.0,710.0 790.0,712.5 810.0,710.0 815.0,715.0 800.0,722.5 790.0,730.0 780.0,737.5 770.0,745.0 765.0,747.5 775.0,749.0 786.0,750.0 792.5,760.0 785.0,761.0 780.0,767.5 779.0,777.5 775.0,784.0 766.0,782.5 765.0,800.0 763.8,807.5 762.5,822.5 767.5,825.0 766.0,835.0 755.0,837.5 751.0,834.0 752.5,825.0 742.5,822.5 732.5,829.0 740.0,832.5 746.0,837.5 749.0,845.0 757.5,847.5 760.0,854.0 754.0,857.5 749.0,867.5 746.0,880.0 756.0,884.0 760.0,887.5 749.0,894.0 739.0,896.0 739.0,902.5 749.0,904.0 754.0,909.0 745.0,912.5 729.0,912.5 720.0,900.0 710.0,894.0 695.0,890.0 700.0,889.0 715.0,885.0 727.5,880.0 737.5,875.0 741.0,867.5 740.0,857.5 732.5,851.0 717.5,850.0 695.0,851.0 680.0,854.0 670.0,854.0 662.5,859.0 659.0,854.0 656.0,846.0 644.0,846.0 642.5,854.0 637.5,857.5 632.5,851.0 630.0,859.0 621.0,861.0 619.0,871.0 612.5,877.5 604.0,885.0 605.0,895.0 600.0,902.5 590.0,911.0 585.0,922.5 597.5,917.5 594.0,930.0 591.0,945.0 589.0,960.0 582.5,975.0 579.0,990.0 571.0,991.0 567.5,1002.5 557.5,1007.5 546.0,1022.5 549.0,1042.5 552.5,1051.0 553.0,1100.0 1024.0,1100.0 1024.0,100.0 585.0,100.0"/>
<polygon points="431.0,194.0 436.0,191.5 444.0,192.5 451.0,193.0 451.0,198.0 444.0,198.5 436.0,197.5"/>
<polygon points="496.0,310.0 500.0,306.0 508.0,305.0 515.0,306.5 516.0,311.0 512.0,315.5 503.0,316.0 498.0,314.5"/>
<polygon points="619.0,399.0 624.0,395.0 630.0,404.0 629.0,412.5 622.5,410.0 619.0,404.0"/>
<polygon points="656.0,394.0 661.0,390.0 666.0,396.0 665.0,404.0 659.0,405.0 656.0,400.0"/>
<polygon points="634.0,416.0 641.0,412.5 654.0,416.0 662.5,424.0 660.0,432.5 654.0,439.0 646.0,436.0 641.0,427.5 636.0,424.0"/>
<polygon points="665.0,557.5 674.0,551.0 680.0,552.5 686.0,564.0 675.0,565.0 667.5,562.5"/>
<polygon points="641.0,581.0 650.0,575.0 660.0,569.0 672.5,567.5 676.0,572.5 672.5,581.0 666.0,586.0 660.0,590.0 650.0,589.0"/>
<polygon points="691.0,667.5 696.0,665.0 701.0,670.0 702.5,682.5 705.0,700.0 710.0,712.5 717.5,722.5 725.0,735.0 735.0,747.5 747.5,752.5 754.0,754.0 752.5,759.0 745.0,766.0 725.0,766.0 721.0,757.5 714.0,752.5 711.0,740.0 704.0,732.5 699.0,720.0 692.5,707.5 691.0,695.0 692.5,680.0"/>
<polygon points="744.0,799.0 748.0,796.0 752.0,799.0 752.0,804.0 748.0,806.0 744.0,804.0"/>
<polygon points="269.0,440.0 287.5,439.0 296.0,450.0 310.0,459.0 310.0,471.0 302.5,481.0 290.0,486.0 282.5,486.0 281.0,475.0 276.0,465.0 267.5,453.0"/>
<polygon points="292.5,500.0 300.0,500.0 305.0,495.0 312.5,492.5 321.0,500.0 325.0,506.0 317.5,512.5 307.5,515.0 305.0,520.0 315.0,522.5 321.0,529.0 312.5,532.5 302.5,536.0 295.0,532.5 292.5,520.0 295.0,510.0"/>
<polygon points="326.0,482.5 332.5,479.0 339.0,480.0 341.0,492.5 342.5,500.0 340.0,511.0 336.0,510.0 330.0,505.0 326.0,497.5 320.0,490.0"/>
<polygon points="334.0,521.0 340.0,520.0 346.0,516.0 350.0,527.5 347.5,535.0 342.5,536.0 336.0,531.0 332.5,525.0"/>
<polygon points="336.0,556.0 342.5,550.0 352.5,549.0 355.0,554.0 350.0,561.0 342.5,566.0 335.0,565.0"/>
<polygon points="330.0,566.0 341.0,569.0 337.5,576.0 330.0,577.5"/>
<polygon points="289.0,554.0 297.5,545.0 312.5,544.0 310.0,552.5 312.5,560.0 302.5,565.0 290.0,564.0 286.0,559.0"/>
<polygon points="280.0,572.5 286.0,569.0 292.5,574.0 290.0,579.0 280.0,580.0"/>
<polygon points="320.0,575.0 325.0,572.5 327.5,582.5 322.5,587.5 319.0,582.5"/>
<polygon points="276.0,590.0 292.5,587.5 305.0,575.0 315.0,574.0 310.0,585.0 302.5,595.0 296.0,597.5 292.5,605.0 296.0,617.5 295.0,630.0 287.5,634.0 279.0,627.5 276.0,610.0"/>
<polygon points="330.0,587.5 340.0,584.0 360.0,584.0 375.0,587.5 377.5,591.0 370.0,595.0 365.0,601.0 360.0,606.0 352.5,606.0 345.0,609.0 335.0,605.0 330.0,597.5"/>
<polygon points="305.0,597.5 312.5,595.0 320.0,604.0 329.0,601.0 335.0,607.0 345.0,611.0 352.5,608.5 360.0,608.5 366.5,603.0 371.5,597.0 380.0,594.0 387.5,597.5 395.0,606.0 405.0,615.0 410.0,627.5 411.0,640.0 410.0,649.0 392.5,647.5 380.0,646.0 370.0,642.5 360.0,639.0 350.0,637.5 340.0,637.5 332.5,634.0 325.0,632.5 315.0,635.0 306.0,627.5 305.0,615.0"/>
<polygon points="101.0,627.5 110.0,621.0 130.0,622.0 146.0,624.5 141.0,633.0 130.0,642.5 117.5,657.5 110.0,660.0 114.0,647.5 115.0,637.5 105.0,631.0"/>
<polygon points="171.5,675.3 175.0,670.1 183.8,669.2 190.0,674.5 187.3,680.6 180.3,682.4 173.3,679.8"/>
<polygon points="256.0,637.0 269.0,636.7 270.0,652.0 259.4,654.0 254.0,647.0"/>
</g>
<!--OVER-->
<g fill="none" stroke="#0a0a0a" stroke-linecap="butt" stroke-linejoin="round">
<polyline points="243.0,446.5 232.0,451.0 225.0,455.0 215.0,464.0" stroke-width="10.9"/>
<polyline points="247.5,452.5 242.5,465.0 238.5,474.0" stroke-width="7.9"/>
<polyline points="260.0,452.5 270.0,462.5 280.0,475.0 281.0,487.5" stroke-width="6.4"/>
<polyline points="215.0,464.0 206.0,457.5 202.5,475.0 202.5,487.5" stroke-width="11.4"/>
<polyline points="202.5,487.5 192.0,487.5" stroke-width="8.9"/>
<polyline points="204.0,487.5 205.0,507.5 195.0,515.0 185.0,527.5" stroke-width="9.9"/>
<polyline points="195.0,535.0 205.0,542.5 215.0,550.0 227.5,540.0 237.5,530.0 250.0,527.5 265.0,535.0 275.0,540.0 288.0,545.0" stroke-width="16.9"/>
<polyline points="275.0,540.0 277.5,520.0 272.5,505.0 280.0,497.5 288.0,492.5" stroke-width="17.9"/>
<polyline points="172.5,559.0 185.0,565.0 200.0,565.0 209.0,557.5" stroke-width="8.4"/>
<polyline points="215.0,552.5 227.5,560.0 237.5,566.0 255.0,567.5 270.0,569.0" stroke-width="8.9"/>
<polyline points="272.0,570.0 272.0,592.5" stroke-width="8.4"/>
<polyline points="190.0,595.0 202.5,587.5 220.0,585.0 237.5,580.0 250.0,587.5 265.0,595.0" stroke-width="11.4"/>
<polyline points="166.0,611.0 180.0,616.0 195.0,611.0 210.0,602.5 225.0,597.5" stroke-width="11.9"/>
<polyline points="237.5,614.0 252.5,612.5 262.5,617.5 270.0,627.5 274.0,636.0" stroke-width="6.9"/>
<polyline points="267.5,595.0 270.0,605.0 271.0,620.0 276.0,636.0 278.0,642.0" stroke-width="8.4"/>
</g>
<g stroke="#0a0a0a" stroke-width="1.6" stroke-linejoin="round">
<polygon points="654.0,159.0 637.5,167.5 631.0,176.0 629.0,186.0 620.0,189.0 621.0,191.5 631.0,191.5 637.5,181.0 659.0,172.5 662.0,174.0 660.0,184.0 656.0,189.0 664.0,194.0 677.5,195.0 700.0,184.0 705.0,180.0 716.0,176.0 700.0,160.0 670.0,148.0" fill="#e2e2e2"/>
<polygon points="585.0,141.0 592.0,148.0 600.0,152.5 608.0,150.0 614.0,151.5 621.0,150.5 615.0,138.0 600.0,130.0" fill="#ffffff"/>
<polygon points="238.0,223.0 250.0,203.0 262.0,206.0 270.0,211.0 274.0,216.0 270.0,220.0 262.0,222.0 255.0,220.0 248.0,222.0" fill="#ffffff"/>
<polygon points="291.0,191.0 298.0,188.5 298.5,198.0 294.5,206.0 290.5,212.0 288.5,208.0 291.5,200.0" fill="#ffffff"/>
<polygon points="648.8,936.2 655.0,931.0 662.5,929.0 670.0,932.5 671.0,939.0 669.0,950.0 665.0,965.0 661.0,977.5 662.5,987.5 670.0,1000.0 671.0,1009.0 677.5,1014.0 687.5,1016.0 695.0,1014.5 692.0,1032.0 660.0,1038.0 655.0,1028.0 645.0,1021.0 639.0,1010.0 636.0,997.5 640.0,985.0 646.0,972.5 651.0,955.0 647.5,950.0 646.0,942.5" fill="#ffffff"/>
<polygon points="702.5,1007.5 712.5,997.5 725.0,992.5 736.0,992.5 744.0,1002.0 722.0,1016.0" fill="#ffffff"/>
<polygon points="176.0,530.0 185.0,520.0 197.5,512.5 200.0,527.5 195.0,541.0 186.0,546.0 175.0,540.0" fill="#d6d6d6"/>
</g>
<g fill="none" stroke-linecap="round" stroke-linejoin="round">
<polyline points="243.0,446.5 232.0,451.0 225.0,455.0 215.0,464.0" stroke-width="8.0" stroke="#f4f4f4"/>
<polyline points="247.5,452.5 242.5,465.0 238.5,474.0" stroke-width="5.0" stroke="#f4f4f4"/>
<polyline points="260.0,452.5 270.0,462.5 280.0,475.0 281.0,487.5" stroke-width="3.5" stroke="#f4f4f4"/>
<polyline points="215.0,464.0 206.0,457.5 202.5,475.0 202.5,487.5" stroke-width="8.5" stroke="#f4f4f4"/>
<polyline points="202.5,487.5 192.0,487.5" stroke-width="6.0" stroke="#f4f4f4"/>
<polyline points="204.0,487.5 205.0,507.5 195.0,515.0 185.0,527.5" stroke-width="7.0" stroke="#d6d6d6"/>
<polyline points="195.0,535.0 205.0,542.5 215.0,550.0 227.5,540.0 237.5,530.0 250.0,527.5 265.0,535.0 275.0,540.0 288.0,545.0" stroke-width="14.0" stroke="#34ee5c"/>
<polyline points="275.0,540.0 277.5,520.0 272.5,505.0 280.0,497.5 288.0,492.5" stroke-width="15.0" stroke="#9fe8a8"/>
<polyline points="172.5,559.0 185.0,565.0 200.0,565.0 209.0,557.5" stroke-width="5.5" stroke="#f4f4f4"/>
<polyline points="215.0,552.5 227.5,560.0 237.5,566.0 255.0,567.5 270.0,569.0" stroke-width="6.0" stroke="#f4f4f4"/>
<polyline points="272.0,570.0 272.0,592.5" stroke-width="5.5" stroke="#f4f4f4"/>
<polyline points="190.0,595.0 202.5,587.5 220.0,585.0 237.5,580.0 250.0,587.5 265.0,595.0" stroke-width="8.5" stroke="#7ee890"/>
<polyline points="166.0,611.0 180.0,616.0 195.0,611.0 210.0,602.5 225.0,597.5" stroke-width="9.0" stroke="#f4f4f4"/>
<polyline points="237.5,614.0 252.5,612.5 262.5,617.5 270.0,627.5 274.0,636.0" stroke-width="4.0" stroke="#f4f4f4"/>
<polyline points="267.5,595.0 270.0,605.0 271.0,620.0 276.0,636.0 278.0,642.0" stroke-width="5.5" stroke="#d6d6d6"/>
</g>
<g>
<ellipse cx="668" cy="185" rx="7" ry="6" fill="#ffffff"/>
<ellipse cx="683" cy="178" rx="3" ry="3" fill="#20d8ff"/>
<ellipse cx="689" cy="175" rx="2" ry="3" fill="#0a22a8"/>
<ellipse cx="697" cy="180" rx="2.5" ry="2.5" fill="#e8e8ff"/>
<ellipse cx="693" cy="177" rx="2" ry="2" fill="#1060ff"/>
<ellipse cx="240" cy="446" rx="6" ry="4" fill="#40ff00"/>
<ellipse cx="246" cy="449" rx="3" ry="3" fill="#ffee00"/>
<ellipse cx="190" cy="533" rx="3" ry="3" fill="#ff3018"/>
<ellipse cx="212" cy="546" rx="9" ry="5" fill="#60f020"/>
<ellipse cx="229" cy="538" rx="5" ry="3.5" fill="#ff4010"/>
<ellipse cx="243" cy="529" rx="10" ry="4.5" fill="#10ffc0"/>
<ellipse cx="262" cy="536" rx="9" ry="5" fill="#10ff60"/>
<ellipse cx="278" cy="544" rx="7" ry="6" fill="#20e8ff"/>
<ellipse cx="277" cy="518" rx="5" ry="9" fill="#20ff20"/>
<ellipse cx="282" cy="497" rx="4" ry="4" fill="#30ff30"/>
<ellipse cx="277" cy="500" rx="2.5" ry="2.5" fill="#ff7020"/>
<ellipse cx="215" cy="587" rx="12" ry="4" fill="#20ff20"/>
<ellipse cx="203" cy="590" rx="4" ry="3" fill="#ff5010"/>
<ellipse cx="240" cy="583" rx="6" ry="3" fill="#30ff30"/>
<ellipse cx="196" cy="609" rx="7" ry="4" fill="#ff60ff"/>
<ellipse cx="185" cy="613" rx="4" ry="3.5" fill="#40ff30"/>
<ellipse cx="191" cy="612" rx="2.5" ry="2.5" fill="#ff8020"/>
<ellipse cx="268" cy="600" rx="2.5" ry="3" fill="#1060ff"/>
<ellipse cx="271" cy="618" rx="2.5" ry="8" fill="#30ff30"/>
<ellipse cx="170" cy="686" rx="7" ry="3.5" fill="#ffa0ff"/>
<ellipse cx="152" cy="689" rx="3.5" ry="3.5" fill="#c0ff40"/>
<ellipse cx="137" cy="661" rx="3" ry="3" fill="#ff6010"/>
</g>
<g stroke="#0c0c0c" stroke-width="1.55" stroke-dasharray="12.4 9.2" fill="none">
<line x1="525.8" y1="594.6" x2="969.2" y2="594.6"/>
<line x1="523.6" y1="602.8" x2="907.6" y2="824.4"/>
<line x1="517.7" y1="608.7" x2="739.4" y2="992.7"/>
<line x1="509.6" y1="610.9" x2="509.6" y2="1054.2"/>
<line x1="501.5" y1="608.7" x2="279.8" y2="992.7"/>
<line x1="495.6" y1="602.8" x2="111.6" y2="824.4"/>
<line x1="493.4" y1="594.6" x2="50.0" y2="594.6"/>
<line x1="495.6" y1="586.5" x2="111.6" y2="364.8"/>
<line x1="501.5" y1="580.6" x2="279.8" y2="196.6"/>
<line x1="509.6" y1="578.4" x2="509.6" y2="135.0"/>
<line x1="517.7" y1="580.6" x2="739.4" y2="196.6"/>
<line x1="523.6" y1="586.5" x2="907.6" y2="364.8"/>
<circle cx="509.6" cy="594.65" r="302.4" fill="none" stroke-dashoffset="-9.2"/>
<circle cx="509.6" cy="594.65" r="150.1" fill="none" stroke-dashoffset="-15.7"/>
</g>
<g font-size="17.5" font-weight="bold" font-style="italic" fill="#000" stroke="#000" stroke-width="0.9" text-anchor="middle">
<text x="509" y="599.3" font-size="16">90</text>
<text x="509.5" y="744.4">80</text>
<text x="510.5" y="897.2">70</text>
<text x="508" y="1054.8">60</text>
</g>
<path d="M503,597 l5,5 l2,-3 l2,3 l5,-5 z" fill="#000"/>
<line x1="497" y1="744.6" x2="521" y2="744.6" stroke="#000" stroke-width="1.6"/>
<line x1="499" y1="897" x2="522" y2="897" stroke="#000" stroke-width="1.4"/>
</g>
<ellipse cx="509.0" cy="594.65" rx="458.6" ry="460.0" fill="none" stroke="#0c0c0c" stroke-width="1.5"/>
</g>
<path d="M382.6,1036.8 A458.6,460.0 0 0 0 493.0,1054.4" fill="none" stroke="#ffffff" stroke-width="3" stroke-dasharray="7 13" stroke-dashoffset="-4"/>
<rect x="40.6" y="125.6" width="936.8" height="938.5" fill="none" stroke="#222" stroke-width="1.8"/>
<g fill="#3a3a3a" stroke="#3a3a3a" stroke-width="0.35">
<text x="58.5" y="1042.2" font-size="30" textLength="154" lengthAdjust="spacingAndGlyphs">(c) cpom/esa</text>
<text x="730.5" y="1042.5" font-size="24.3" textLength="228.5" lengthAdjust="spacingAndGlyphs">29-Mar-15 - 25-Apr-15</text>
</g>
<text transform="translate(1005.1,1065) rotate(-90)" font-size="25.4" fill="#222" textLength="802" lengthAdjust="spacingAndGlyphs">Center for Polar Observation and Modelling, University College London</text>
<text x="412" y="1106.4" font-size="23.5" fill="#222" textLength="200" lengthAdjust="spacingAndGlyphs">Ice Thickness (m)</text>
<rect x="129.8" y="1116.7" width="772.8" height="41.8" fill="url(#cb)" stroke="#111" stroke-width="1.5"/>
<g stroke="#111" stroke-width="1.3"><g stroke-opacity="0.55"><line x1="189.4" y1="1116.7" x2="189.4" y2="1120.7"/><line x1="189.4" y1="1158.5" x2="189.4" y2="1154.5"/></g><g stroke-opacity="1"><line x1="244.4" y1="1116.7" x2="244.4" y2="1123.2"/><line x1="244.4" y1="1158.5" x2="244.4" y2="1152.0"/></g><g stroke-opacity="0.55"><line x1="299.4" y1="1116.7" x2="299.4" y2="1120.7"/><line x1="299.4" y1="1158.5" x2="299.4" y2="1154.5"/></g><g stroke-opacity="1"><line x1="354.4" y1="1116.7" x2="354.4" y2="1123.2"/><line x1="354.4" y1="1158.5" x2="354.4" y2="1152.0"/></g><g stroke-opacity="0.55"><line x1="409.4" y1="1116.7" x2="409.4" y2="1120.7"/><line x1="409.4" y1="1158.5" x2="409.4" y2="1154.5"/></g><g stroke-opacity="1"><line x1="464.4" y1="1116.7" x2="464.4" y2="1123.2"/><line x1="464.4" y1="1158.5" x2="464.4" y2="1152.0"/></g><g stroke-opacity="0.55"><line x1="519.4" y1="1116.7" x2="519.4" y2="1120.7"/><line x1="519.4" y1="1158.5" x2="519.4" y2="1154.5"/></g><g stroke-opacity="1"><line x1="574.4" y1="1116.7" x2="574.4" y2="1123.2"/><line x1="574.4" y1="1158.5" x2="574.4" y2="1152.0"/></g><g stroke-opacity="0.55"><line x1="629.4" y1="1116.7" x2="629.4" y2="1120.7"/><line x1="629.4" y1="1158.5" x2="629.4" y2="1154.5"/></g><g stroke-opacity="1"><line x1="684.4" y1="1116.7" x2="684.4" y2="1123.2"/><line x1="684.4" y1="1158.5" x2="684.4" y2="1152.0"/></g><g stroke-opacity="0.55"><line x1="739.4" y1="1116.7" x2="739.4" y2="1120.7"/><line x1="739.4" y1="1158.5" x2="739.4" y2="1154.5"/></g><g stroke-opacity="1"><line x1="794.4" y1="1116.7" x2="794.4" y2="1123.2"/><line x1="794.4" y1="1158.5" x2="794.4" y2="1152.0"/></g><g stroke-opacity="0.55"><line x1="849.4" y1="1116.7" x2="849.4" y2="1120.7"/><line x1="849.4" y1="1158.5" x2="849.4" y2="1154.5"/></g></g>
<g font-size="24" fill="#222"><text x="105.3" y="1192.6" textLength="51" lengthAdjust="spacingAndGlyphs">0.00</text><text x="212.7" y="1192.6" textLength="51" lengthAdjust="spacingAndGlyphs">0.50</text><text x="324.3" y="1192.6" textLength="51" lengthAdjust="spacingAndGlyphs">1.00</text><text x="438.0" y="1192.6" textLength="51" lengthAdjust="spacingAndGlyphs">1.50</text><text x="544.8" y="1192.6" textLength="51" lengthAdjust="spacingAndGlyphs">2.00</text><text x="658.1" y="1192.6" textLength="51" lengthAdjust="spacingAndGlyphs">2.50</text><text x="764.5" y="1192.6" textLength="51" lengthAdjust="spacingAndGlyphs">3.00</text><text x="870.5" y="1192.6" textLength="51" lengthAdjust="spacingAndGlyphs">3.50</text></g>
</svg>
</body></html>
